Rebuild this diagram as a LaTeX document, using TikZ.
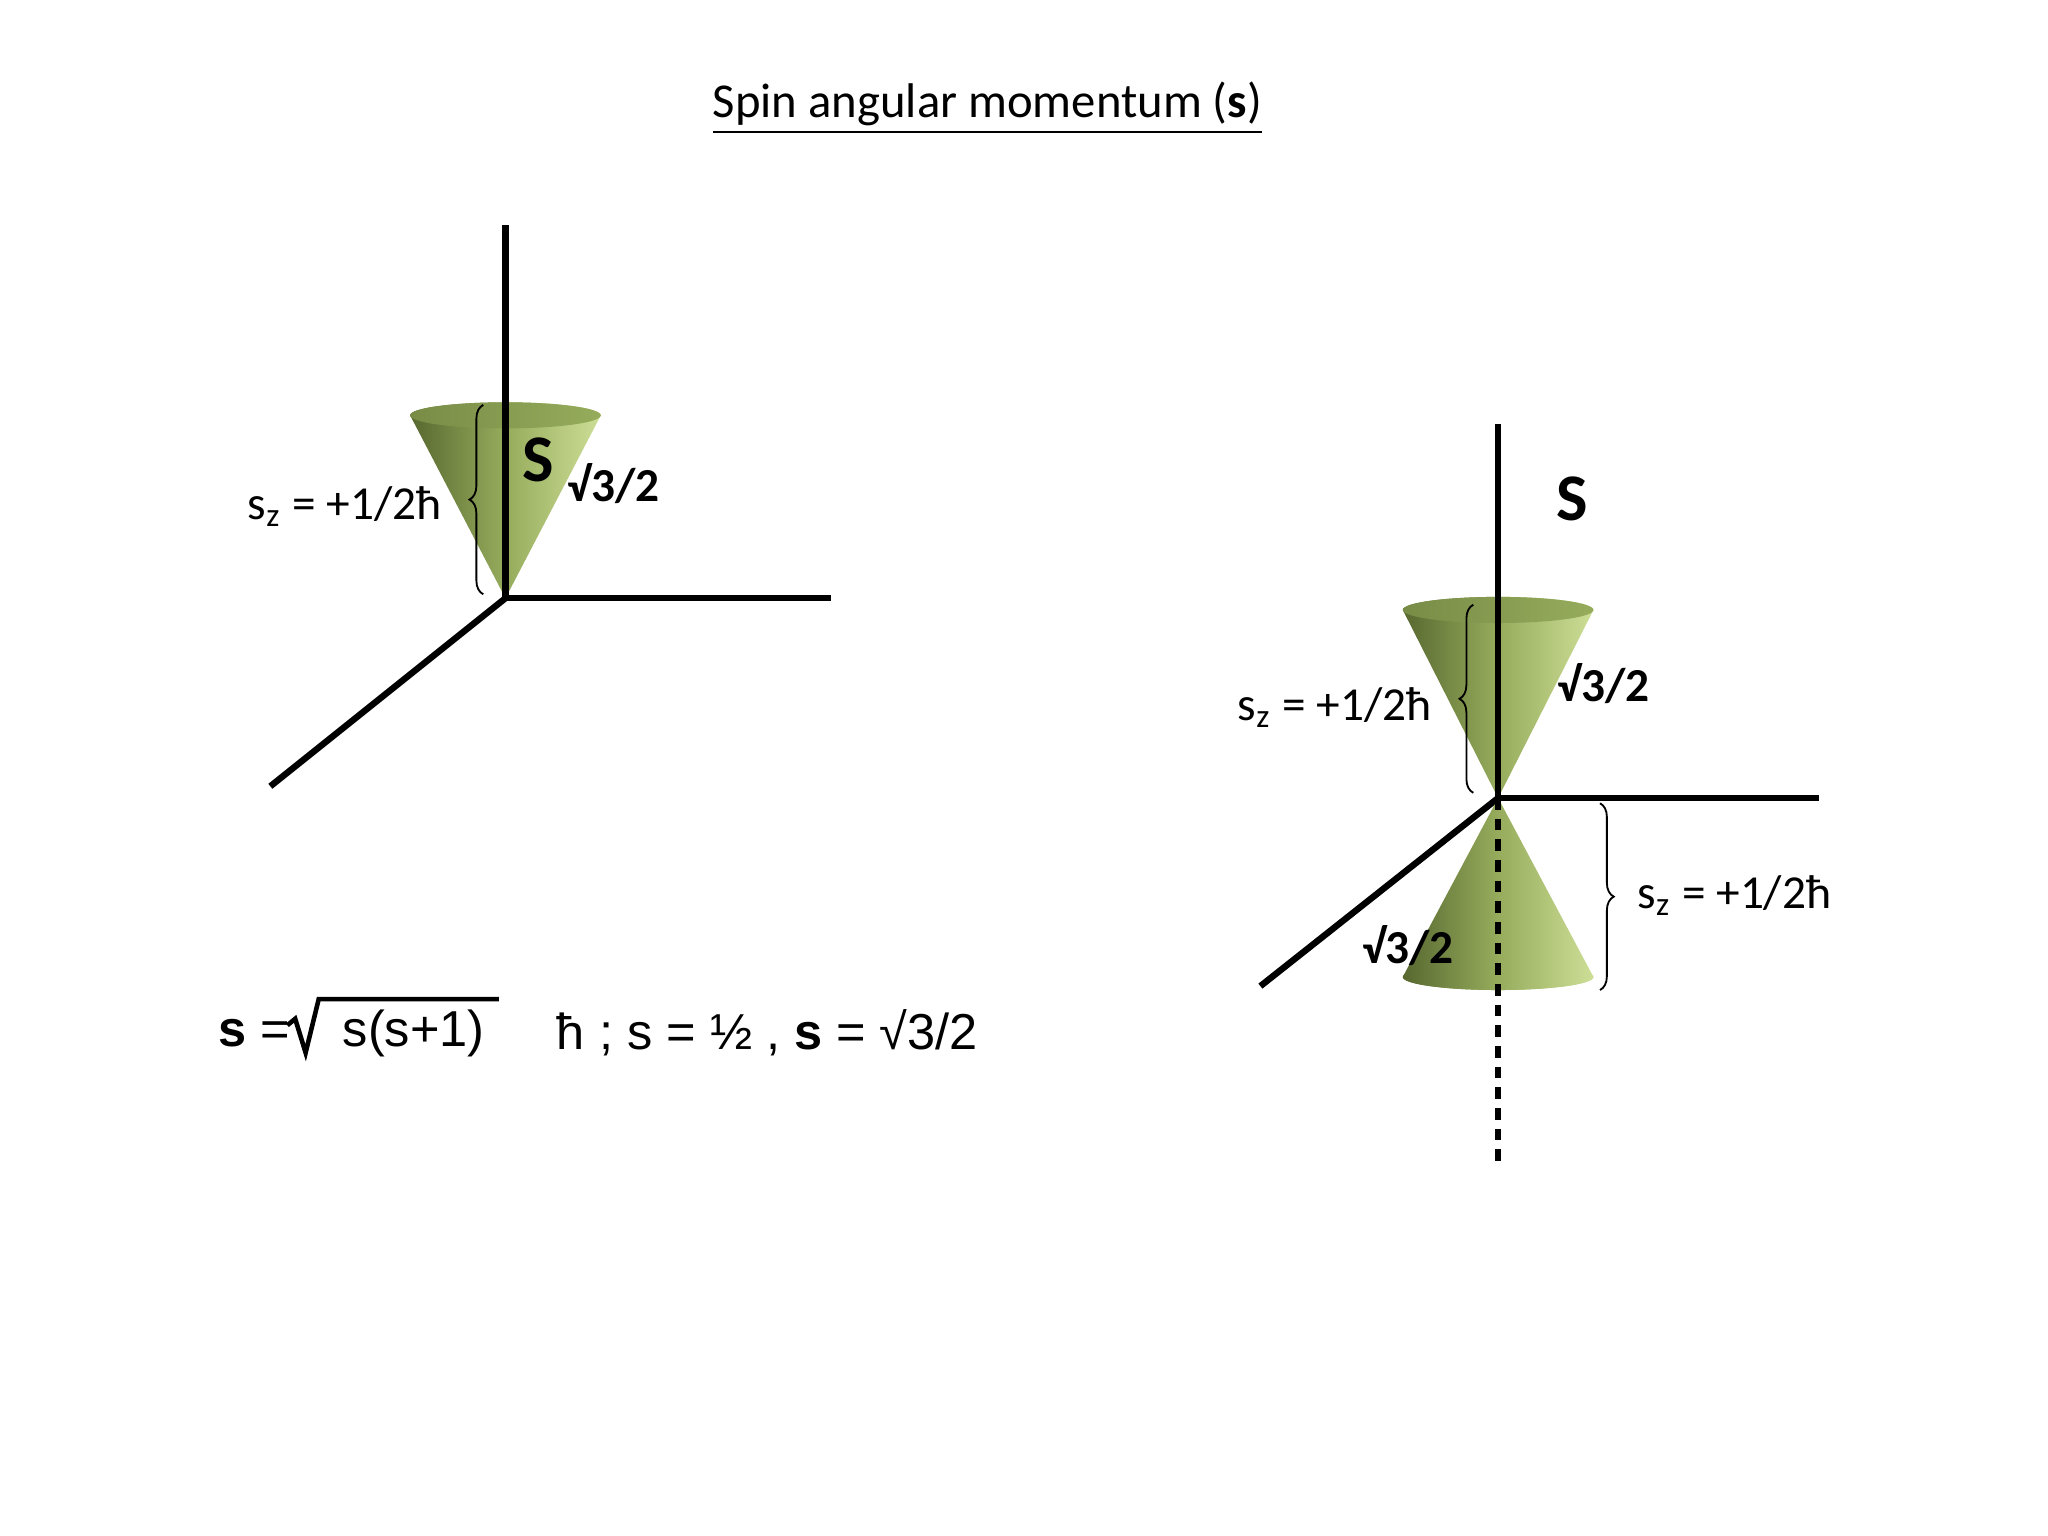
\documentclass[tikz,border=0pt]{standalone}
\usepackage{fontspec}
\setmainfont{Carlito}
\newfontfamily\arialf{Liberation Sans}
\usetikzlibrary{decorations.pathreplacing}
\definecolor{olivedark}{RGB}{88,104,48}
\definecolor{olivemid}{RGB}{150,172,92}
\definecolor{olivelight}{RGB}{205,222,150}
\definecolor{olivetop}{RGB}{120,140,70}
\tikzset{
 axisline/.style={line width=1.4pt,black},
 conefill/.style={left color=olivedark, right color=olivelight, middle color=olivemid, draw=none},
 topell/.style={left color=olivetop, right color=olivemid, draw=none},
 bracestyle/.style={decorate,decoration={brace,amplitude=3pt},thin},
 lbl/.style={font=\fontsize{10.3}{12}\selectfont},
 bigs/.style={font=\fontsize{14.5}{16}\selectfont\bfseries},
 root/.style={font=\fontsize{10.3}{12}\selectfont\bfseries},
 eq/.style={font=\arialf\fontsize{11}{12}\selectfont,anchor=west}
}
\begin{document}
\begin{tikzpicture}[x=0.01cm,y=-0.01cm]
\useasboundingbox (0,0) rectangle (1568,1176);
\node[font=\fontsize{10.6}{12}\selectfont] (title) at (756,83) {\underline{Spin angular momentum (\textbf{s})}};
% left diagram
\coordinate (O1) at (387,458);
\coordinate (Z1) at (387,172);
\coordinate (X1) at (636,458);
\coordinate (Y1) at (207,602);
\draw[axisline] (O1) -- (Z1);
\draw[axisline] (O1) -- (X1);
\draw[axisline] (O1) -- (Y1);
\shade[conefill] (O1) -- (314,318) arc[start angle=180,end angle=360,x radius=73,y radius=10] -- cycle;
\shade[topell] (387,318) ellipse[x radius=73,y radius=10];
\draw[axisline] (O1) -- (387,300);
\coordinate (b1a) at (370,455); \coordinate (b1b) at (370,310);
\draw[bracestyle] (b1a) -- (b1b);
\node[lbl] (sz1) at (264,388) {s\textsubscript{z} = +1/2ħ};
\node[bigs] (S1) at (412,352) {S};
\node[root] (r1) at (470,370) {√3/2};
% right diagram
\coordinate (O2) at (1147,611);
\coordinate (Z2) at (1147,325);
\coordinate (X2) at (1393,611);
\coordinate (Y2) at (965,755);
\coordinate (D2) at (1147,893);
\draw[axisline] (O2) -- (Y2);
\shade[conefill] (O2) -- (1074,467) arc[start angle=180,end angle=360,x radius=73,y radius=10] -- cycle;
\shade[topell] (1147,467) ellipse[x radius=73,y radius=10];
\shade[conefill] (O2) -- (1074,748) arc[start angle=180,end angle=0,x radius=73,y radius=10] -- cycle;
\shade[conefill] (1074,748) arc[start angle=180,end angle=360,x radius=73,y radius=10] arc[start angle=0,end angle=180,x radius=73,y radius=10];
\draw[axisline] (O2) -- (Z2);
\draw[axisline] (O2) -- (X2);
\draw[line width=1.4pt,dash pattern=on 2.5pt off 2pt] (O2) -- (D2);
\coordinate (b2a) at (1128,607); \coordinate (b2b) at (1128,463);
\draw[bracestyle] (b2a) -- (b2b);
\coordinate (b3a) at (1225,615); \coordinate (b3b) at (1225,758);
\draw[bracestyle] (b3a) -- (b3b);
\node[lbl] (sz2) at (1022,542) {s\textsubscript{z} = +1/2ħ};
\node[lbl] (sz3) at (1328,686) {s\textsubscript{z} = +1/2ħ};
\node[bigs] (S2) at (1204,382) {S};
\node[root] (r2) at (1228,523) {√3/2};
\node[root] (r3) at (1078,724) {√3/2};
% equation
\node[eq] (e1) at (155,791) {\textbf{s} =};
\draw[line width=1pt] (220,785) -- (226,780) -- (234,806) -- (244,765) -- (382,765);
\node[eq] (e2) at (250,791) {s(s+1)};
\node[eq] (e3) at (414,791) {ħ ; s = ½ , \textbf{s} = √3/2};
\end{tikzpicture}
\end{document}
